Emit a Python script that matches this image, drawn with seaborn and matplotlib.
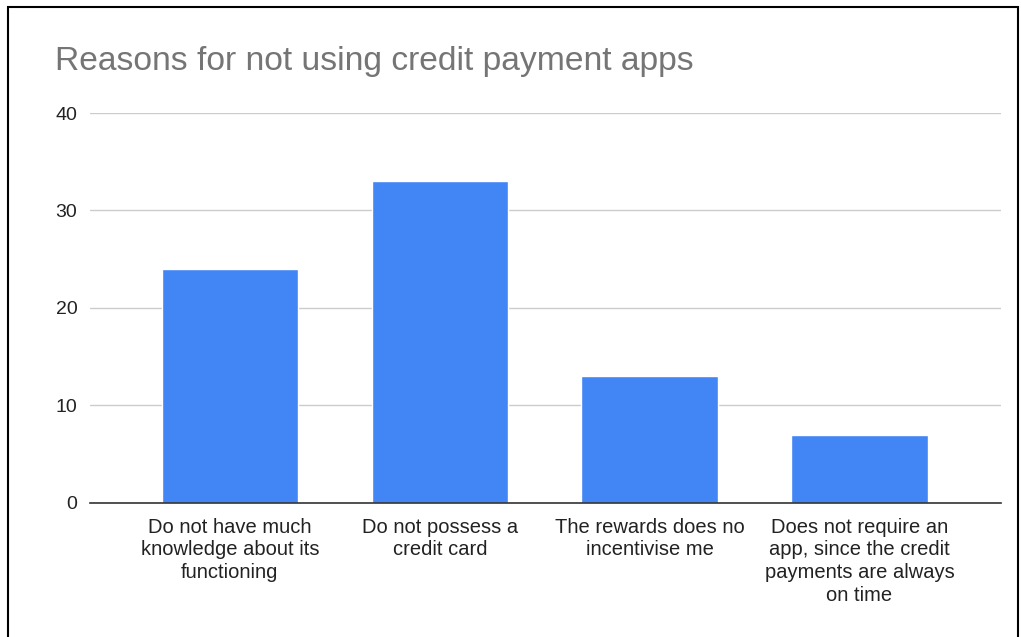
import matplotlib
matplotlib.use("Agg")
import matplotlib.pyplot as plt
import seaborn as sns
import pandas as pd
from matplotlib.patches import Rectangle

categories = [
    "Do not have much\nknowledge about its\nfunctioning",
    "Do not possess a\ncredit card",
    "The rewards does no\nincentivise me",
    "Does not require an\napp, since the credit\npayments are always\non time",
]
counts = [24, 33, 13, 7]
y_ticks = [0, 10, 20, 30, 40]

df = pd.DataFrame({"reason": categories, "count": counts})

sns.set_style("white")
plt.rcParams["font.family"] = ["Liberation Sans", "DejaVu Sans"]

fig = plt.figure(figsize=(10.21, 6.37), dpi=100)
ax = fig.add_axes([0.0881, 0.2104, 0.8923, 0.6122])

sns.barplot(data=df, x="reason", y="count", color="#4285F4", width=0.65,
            saturation=1, ax=ax, zorder=3)

ax.set_ylim(0, 40)
ax.set_xlim(-0.667, 3.674)
ax.set_yticks(y_ticks)
ax.yaxis.grid(True, color="#cccccc", linewidth=1, zorder=0)
ax.xaxis.grid(False)
for side in ["top", "right", "left"]:
    ax.spines[side].set_visible(False)
ax.spines["bottom"].set_color("#333333")
ax.spines["bottom"].set_linewidth(1.2)
ax.spines["bottom"].set_zorder(4)

ax.tick_params(axis="y", length=0, pad=9, labelsize=14, labelcolor="#222222")
ax.tick_params(axis="x", length=0, pad=10.5, labelsize=14.5, labelcolor="#222222")
for lbl in ax.get_xticklabels():
    lbl.set_linespacing(1.26)
ax.set_xlabel("")
ax.set_ylabel("")

fig.text(0.0539, 0.9027, "Reasons for not using credit payment apps",
         fontsize=24.2, color="#757575", ha="left", va="center")

# outer frame around the chart
fig.patches.append(Rectangle((8 / 1021, -0.05), 1010 / 1021, 1.05 - 7 / 637,
                             transform=fig.transFigure, fill=False,
                             edgecolor="black", linewidth=1.5))

fig.savefig("out.png", dpi=100)
